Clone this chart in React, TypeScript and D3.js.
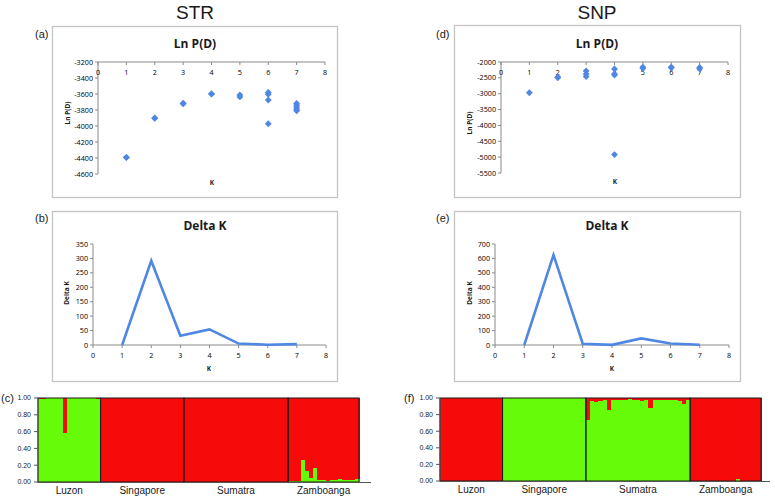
import React from 'react';
import * as d3 from 'd3';

// ---------- DATA ----------
const kTicks = [0, 1, 2, 3, 4, 5, 6, 7, 8];
const kRuns = [1, 2, 3, 4, 5, 6, 7];

// Ln P(D) replicate values per K (index 0 -> K=1)
const strLnP: number[][] = [
  [-4395, -4392],
  [-3904, -3900],
  [-3716, -3722],
  [-3596, -3602],
  [-3612, -3636],
  [-3580, -3604, -3675, -3972],
  [-3718, -3742, -3766, -3790, -3810],
];
const snpLnP: number[][] = [
  [-2970],
  [-2470, -2500],
  [-2280, -2380, -2460],
  [-2220, -2380, -2410, -4920],
  [-2160, -2200],
  [-2160, -2185],
  [-2170, -2215],
];

const strDeltaK = [0, 292, 32, 54, 5, 1, 3];
const snpDeltaK = [0, 624, 9, 1, 46, 10, 2];

const strLnTicks = [-3200, -3400, -3600, -3800, -4000, -4200, -4400, -4600];
const snpLnTicks = [-2000, -2500, -3000, -3500, -4000, -4500, -5000, -5500];
const strDkTicks = [0, 50, 100, 150, 200, 250, 300, 350];
const snpDkTicks = [0, 100, 200, 300, 400, 500, 600, 700];
const qTicks = [0, 0.2, 0.4, 0.6, 0.8, 1.0];

const populations = ['Luzon', 'Singapore', 'Sumatra', 'Zamboanga'];

// STRUCTURE membership: proportion of green cluster per individual
const strLuzon = [0.99, 0.99, 1, 1, 1, 1, 0.58, 1, 1, 1, 1, 1, 1, 1, 0.985];
const strSingapore = new Array(20).fill(0);
const strSumatra = new Array(25).fill(0);
const strZamboanga = [0.01, 0.01, 0.01, 0.26, 0.13, 0.05, 0.17, 0.02, 0.02, 0.01, 0.02, 0.02, 0.03, 0.02, 0.02, 0.02, 0.04];

const snpLuzon = new Array(15).fill(0);
const snpSingapore = new Array(20).fill(1);
const snpSumatra = [0.74, 0.96, 0.95, 0.96, 0.97, 0.85, 0.97, 0.98, 0.97, 0.98, 0.99, 0.97, 0.98, 0.96, 0.97, 0.88, 0.97, 0.98, 0.97, 0.97, 0.98, 0.97, 0.96, 0.93, 0.97];
const snpZamboanga = [0, 0, 0, 0, 0, 0, 0.006, 0, 0, 0, 0, 0.02, 0, 0, 0, 0, 0];

// ---------- STYLE ----------
const BLUE = '#4f87e3';
const RED = '#f70a0a';
const GREEN = '#66fb08';
const FRAME = '#c4c4c4';
const AXIS = '#8a8a8a';
const TXT = '#1a1a1a';
const FONT = '"Liberation Sans", Arial, sans-serif';
const XLFONT = '"Open Sans", "Liberation Sans", sans-serif';

type Box = { x: number; y: number; w: number; h: number };

function Frame({ b }: { b: Box }) {
  return <rect x={b.x + 0.5} y={b.y + 0.5} width={b.w} height={b.h} fill="#fff" stroke={FRAME} strokeWidth={1.3} />;
}

function YAxis({ y, x, ticks }: { y: d3.ScaleLinear<number, number>; x: number; ticks: number[] }) {
  const r = y.range();
  return (
    <g>
      <line x1={x} x2={x} y1={Math.min(r[0], r[1])} y2={Math.max(r[0], r[1])} stroke={AXIS} strokeWidth={1} />
      {ticks.map((t) => (
        <g key={t}>
          <line x1={x - 3} x2={x} y1={y(t)} y2={y(t)} stroke={AXIS} strokeWidth={1} />
          <text x={x - 5} y={y(t)} dy="0.35em" textAnchor="end" fontSize={7.2} fill="#000" fontFamily={XLFONT}>
            {t}
          </text>
        </g>
      ))}
    </g>
  );
}

function XAxis({ x, y, ticks, labelDy }: { x: d3.ScaleLinear<number, number>; y: number; ticks: number[]; labelDy: number }) {
  const r = x.range();
  return (
    <g>
      <line x1={r[0]} x2={r[1]} y1={y} y2={y} stroke={AXIS} strokeWidth={1} />
      {ticks.map((t) => (
        <g key={t}>
          <line x1={x(t)} x2={x(t)} y1={y} y2={y + 3} stroke={AXIS} strokeWidth={1} />
          <text x={x(t)} y={y + labelDy} dy="0.35em" textAnchor="middle" fontSize={7.2} fill="#000" fontFamily={XLFONT}>
            {t}
          </text>
        </g>
      ))}
    </g>
  );
}

function PanelText({ label, lx, ly, title, tx, ty, ylab, yx, yy, kx, ky }: any) {
  return (
    <g>
      <text x={lx} y={ly} fontSize={11} fill={TXT} fontFamily={FONT}>{label}</text>
      <text x={tx} y={ty} textAnchor="middle" fontSize={12} fontWeight="bold" fill={TXT} fontFamily={XLFONT}>{title}</text>
      <text transform={`translate(${yx},${yy}) rotate(-90)`} textAnchor="middle" fontSize={6.5} fontWeight="bold" fill={TXT} fontFamily={XLFONT}>{ylab}</text>
      <text x={kx} y={ky} textAnchor="middle" fontSize={6.5} fontWeight="bold" fill={TXT} fontFamily={XLFONT}>K</text>
    </g>
  );
}

function ScatterPanel({ frame, data, yTicks, xr, yr, text }: any) {
  const x = d3.scaleLinear().domain([0, 8]).range(xr);
  const y = d3.scaleLinear().domain([yTicks[0], yTicks[yTicks.length - 1]]).range(yr);
  const sym = d3.symbol().type(d3.symbolDiamond2).size(30);
  const pts: { k: number; v: number }[] = [];
  (data as number[][]).forEach((vals, i) => vals.forEach((v) => pts.push({ k: kRuns[i], v })));
  return (
    <g>
      <Frame b={frame} />
      <PanelText {...text} />
      <YAxis y={y} x={xr[0]} ticks={yTicks} />
      <XAxis x={x} y={yr[0]} ticks={kTicks} labelDy={10} />
      {pts.map((p, i) => (
        <path key={i} d={sym() as string} transform={`translate(${x(p.k)},${y(p.v)})`} fill={BLUE} />
      ))}
    </g>
  );
}

function LinePanel({ frame, data, yTicks, xr, yr, text }: any) {
  const x = d3.scaleLinear().domain([0, 8]).range(xr);
  const y = d3.scaleLinear().domain([0, yTicks[yTicks.length - 1]]).range(yr);
  const line = d3.line<number>().x((_, i) => x(kRuns[i])).y((d) => y(d));
  return (
    <g>
      <Frame b={frame} />
      <PanelText {...text} />
      <YAxis y={y} x={xr[0]} ticks={yTicks} />
      <XAxis x={x} y={yr[0]} ticks={kTicks} labelDy={10} />
      <path d={line(data) as string} fill="none" stroke={BLUE} strokeWidth={2.6} strokeLinejoin="miter" />
    </g>
  );
}

function StructurePlot({ groups, x0, x1, yTop, yBot, axisEnd, label, lx }: any) {
  const total = (groups as number[][]).reduce((s, g) => s + g.length, 0);
  const x = d3.scaleLinear().domain([0, total]).range([x0, x1]);
  const y = d3.scaleLinear().domain([0, 1]).range([yBot, yTop]);
  let offset = 0;
  const blocks = (groups as number[][]).map((g, gi) => {
    const start = offset;
    offset += g.length;
    return { gi, start, end: offset, vals: g };
  });
  return (
    <g>
      <text x={lx} y={y(1)} dy="0.35em" fontSize={11} fill={TXT} fontFamily={FONT}>{label}</text>
      {blocks.map((b) => (
        <g key={b.gi} shapeRendering="crispEdges">
          {b.vals.map((q, i) => (
            <g key={i}>
              <rect x={x(b.start + i)} width={x(b.start + i + 1) - x(b.start + i) + 0.6} y={y(1)} height={y(q) - y(1)} fill={RED} />
              <rect x={x(b.start + i)} width={x(b.start + i + 1) - x(b.start + i) + 0.6} y={y(q)} height={y(0) - y(q)} fill={GREEN} />
            </g>
          ))}
        </g>
      ))}
      {blocks.map((b) => (
        <rect key={'f' + b.gi} x={x(b.start)} y={y(1)} width={x(b.end) - x(b.start)} height={y(0) - y(1)} fill="none" stroke="#1a1a1a" strokeWidth={1} />
      ))}
      <line x1={x0} x2={axisEnd} y1={y(0) + 0.5} y2={y(0) + 0.5} stroke="#555" strokeWidth={1} />
      <line x1={x0} x2={x0} y1={y(1)} y2={y(0)} stroke="#555" strokeWidth={1} />
      {qTicks.map((t) => (
        <g key={t}>
          <line x1={x0 - 4} x2={x0} y1={y(t)} y2={y(t)} stroke="#555" strokeWidth={1} />
          <text x={x0 - 7} y={y(t)} dy="0.35em" textAnchor="end" fontSize={7} fill={TXT} fontFamily={FONT}>{t.toFixed(2)}</text>
        </g>
      ))}
      {blocks.map((b) => (
        <text key={'l' + b.gi} x={(x(b.start) + x(b.end)) / 2} y={yBot + 12} textAnchor="middle" fontSize={10} fill={TXT} fontFamily={FONT}>
          {populations[b.gi]}
        </text>
      ))}
    </g>
  );
}

export default function App() {
  return (
    <svg width={775} height={496} viewBox="0 0 775 496" style={{ position: 'absolute', left: 0, top: 0, background: '#fff' }}>
      <rect width={775} height={496} fill="#fff" />
      <text x={195} y={19} textAnchor="middle" fontSize={19} fill={TXT} fontFamily={FONT}>STR</text>
      <text x={597} y={19} textAnchor="middle" fontSize={19} fill={TXT} fontFamily={FONT}>SNP</text>

      <ScatterPanel
        frame={{ x: 52, y: 26, w: 285, h: 171 }}
        data={strLnP}
        yTicks={strLnTicks}
        xr={[98, 325]}
        yr={[62, 174]}
        text={{ label: '(a)', lx: 35, ly: 38, title: 'Ln P(D)', tx: 195, ty: 48, ylab: 'Ln P(D)', yx: 70, yy: 113, kx: 212, ky: 185 }}
      />
      <ScatterPanel
        frame={{ x: 454, y: 25, w: 286, h: 172 }}
        data={snpLnP}
        yTicks={snpLnTicks}
        xr={[501, 728]}
        yr={[62, 173]}
        text={{ label: '(d)', lx: 436, ly: 38, title: 'Ln P(D)', tx: 597, ty: 48, ylab: 'Ln P(D)', yx: 472, yy: 123, kx: 615, ky: 184 }}
      />
      <LinePanel
        frame={{ x: 52, y: 211, w: 285, h: 170 }}
        data={strDeltaK}
        yTicks={strDkTicks}
        xr={[93, 326]}
        yr={[345, 244]}
        text={{ label: '(b)', lx: 35, ly: 222, title: 'Delta K', tx: 205, ty: 230, ylab: 'Delta K', yx: 69, yy: 293, kx: 209, ky: 371 }}
      />
      <LinePanel
        frame={{ x: 454, y: 211, w: 286, h: 170 }}
        data={snpDeltaK}
        yTicks={snpDkTicks}
        xr={[495, 729]}
        yr={[345, 244]}
        text={{ label: '(e)', lx: 436, ly: 222, title: 'Delta K', tx: 607, ty: 230, ylab: 'Delta K', yx: 472, yy: 293, kx: 612, ky: 371 }}
      />

      <StructurePlot
        groups={[strLuzon, strSingapore, strSumatra, strZamboanga]}
        x0={38}
        x1={359}
        yTop={398}
        yBot={482}
        axisEnd={371}
        label="(c)"
        lx={1}
      />
      <StructurePlot
        groups={[snpLuzon, snpSingapore, snpSumatra, snpZamboanga]}
        x0={440}
        x1={761}
        yTop={398}
        yBot={481}
        axisEnd={770}
        label="(f)"
        lx={404}
      />
    </svg>
  );
}
